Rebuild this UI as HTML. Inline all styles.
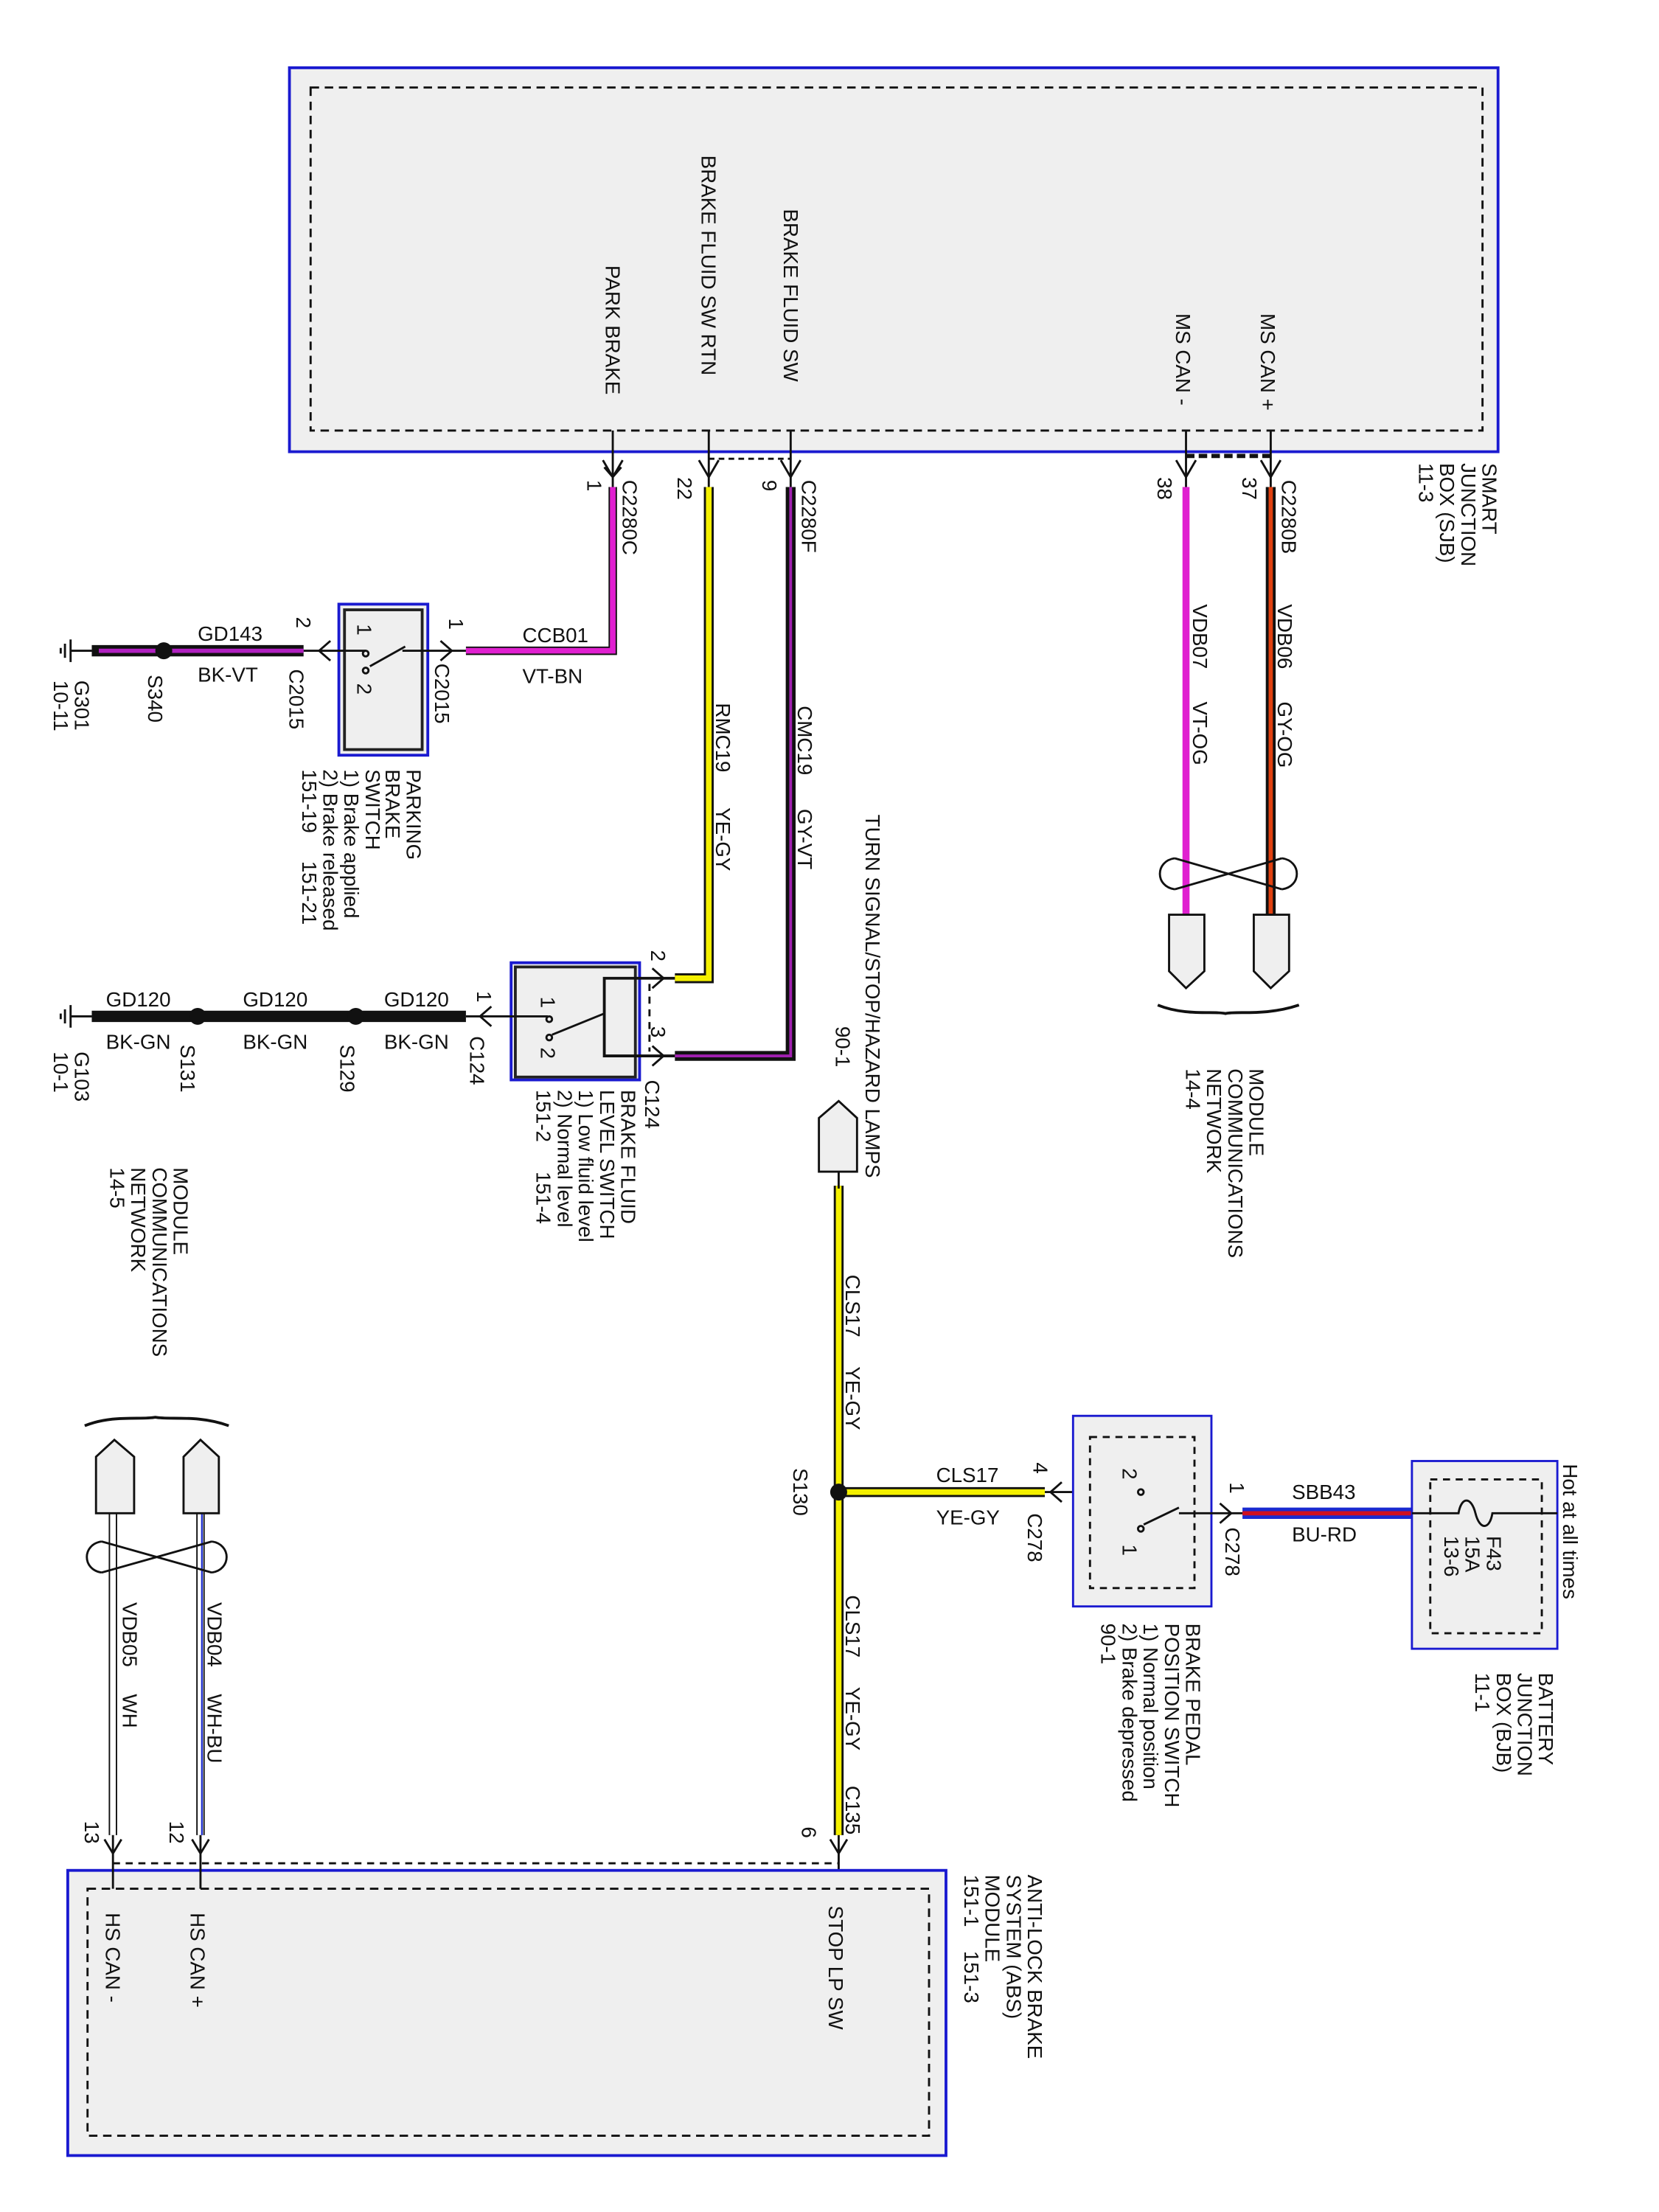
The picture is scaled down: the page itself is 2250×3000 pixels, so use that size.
<!DOCTYPE html>
<html><head><meta charset="utf-8"><style>
html,body{margin:0;padding:0;background:#fff;}
svg{display:block;}
text{font-family:"Liberation Sans",sans-serif;fill:#111;}
</style></head><body>
<svg width="2250" height="3000" viewBox="0 0 1175 1567" preserveAspectRatio="none" xmlns="http://www.w3.org/2000/svg">
<g font-size="14.5">
<!-- SJB -->
<rect x="205" y="48" width="856" height="272" fill="#efefef" stroke="#1a1ad0" stroke-width="2"/>
<rect x="220" y="62" width="830" height="243" fill="none" stroke="#111" stroke-width="1.5" stroke-dasharray="6,4"/>
<text transform="translate(429,188) rotate(90)">PARK BRAKE</text>
<text transform="translate(497,110) rotate(90)">BRAKE FLUID SW RTN</text>
<text transform="translate(555,148) rotate(90)">BRAKE FLUID SW</text>
<text transform="translate(833,222) rotate(90)">MS CAN -</text>
<text transform="translate(893,222) rotate(90)">MS CAN +</text>
<text transform="translate(1050,328) rotate(90)">SMART</text>
<text transform="translate(1035,328) rotate(90)">JUNCTION</text>
<text transform="translate(1020,328) rotate(90)">BOX (SJB)</text>
<text transform="translate(1005,328) rotate(90)">11-3</text>
<!-- pins SJB -->
<g stroke="#111" stroke-width="1.5" fill="none">
<line x1="434" y1="305" x2="434" y2="345"/><line x1="502" y1="305" x2="502" y2="345"/><line x1="560" y1="305" x2="560" y2="345"/>
<line x1="840" y1="305" x2="840" y2="345"/><line x1="900" y1="305" x2="900" y2="345"/>
<path d="M427 326 L434 338 L441 326 M428 331 L434 338 L440 331"/>
<path d="M495 326 L502 338 L509 326"/>
<path d="M553 326 L560 338 L567 326"/>
<path d="M833 326 L840 338 L847 326"/>
<path d="M893 326 L900 338 L907 326"/>
<line x1="502" y1="325" x2="560" y2="325" stroke-dasharray="4,3"/>
<line x1="840" y1="323" x2="900" y2="323" stroke-width="3" stroke-dasharray="6,3"/>
</g>
<text transform="translate(416,340) rotate(90)">1</text>
<text transform="translate(480,338) rotate(90)">22</text>
<text transform="translate(540,340) rotate(90)">9</text>
<text transform="translate(820,338) rotate(90)">38</text>
<text transform="translate(880,338) rotate(90)">37</text>
<text transform="translate(441,340) rotate(90)">C2280C</text>
<text transform="translate(568,340) rotate(90)">C2280F</text>
<text transform="translate(908,340) rotate(90)">C2280B</text>

<!-- Park brake wire CCB01 -->
<path d="M434 345 L434 461 L330 461" fill="none" stroke="#111" stroke-width="6"/>
<path d="M434 345 L434 461 L330 461" fill="none" stroke="#e020d0" stroke-width="4"/>
<text x="370" y="455">CCB01</text><text x="370" y="484">VT-BN</text>
<!-- Parking brake switch -->
<rect x="240" y="428" width="63" height="107" fill="#efefef" stroke="#1a1ad0" stroke-width="2"/>
<rect x="244" y="432" width="55" height="99" fill="none" stroke="#222" stroke-width="2"/>
<g stroke="#111" stroke-width="1.5" fill="none">
<line x1="215" y1="461" x2="259" y2="461"/><line x1="285" y1="461" x2="330" y2="461"/>
<path d="M312 454 L320 461 L312 468"/>
<path d="M234 454 L226 461 L234 468"/>
<line x1="262" y1="472" x2="287" y2="458"/>
<circle cx="259" cy="463" r="2"/><circle cx="259" cy="475" r="2"/>
</g>
<text transform="translate(318,438) rotate(90)">1</text>
<text transform="translate(308,470) rotate(90)">C2015</text>
<text transform="translate(210,437) rotate(90)">2</text>
<text transform="translate(205,474) rotate(90)">C2015</text>
<text transform="translate(253,442) rotate(90)">1</text>
<text transform="translate(253,484) rotate(90)">2</text>
<text transform="translate(288,545) rotate(90)">PARKING</text>
<text transform="translate(273,545) rotate(90)">BRAKE</text>
<text transform="translate(259,545) rotate(90)">SWITCH</text>
<text transform="translate(244,545) rotate(90)">1) Brake applied</text>
<text transform="translate(229,545) rotate(90)">2) Brake released</text>
<text transform="translate(214,545) rotate(90)">151-19</text>
<text transform="translate(214,610) rotate(90)">151-21</text>
<!-- GD143 -->
<line x1="65" y1="461" x2="215" y2="461" stroke="#111" stroke-width="8"/>
<line x1="70" y1="461" x2="215" y2="461" stroke="#b020c0" stroke-width="3"/>
<circle cx="116" cy="461" r="6" fill="#111"/>
<text x="140" y="454">GD143</text><text x="140" y="483">BK-VT</text>
<g stroke="#111" stroke-width="1.5"><line x1="50" y1="461" x2="65" y2="461"/><line x1="50" y1="453" x2="50" y2="469"/><line x1="46" y1="456" x2="46" y2="466"/><line x1="43" y1="459" x2="43" y2="463"/></g>
<text transform="translate(53,482) rotate(90)">G301</text>
<text transform="translate(38,482) rotate(90)">10-11</text>
<text transform="translate(105,478) rotate(90)">S340</text>

<!-- RMC19 -->
<path d="M502 345 L502 693 L478 693" fill="none" stroke="#111" stroke-width="7"/>
<path d="M502 345 L502 693 L478 693" fill="none" stroke="#f4f000" stroke-width="4"/>
<text transform="translate(507,498) rotate(90)">RMC19</text>
<text transform="translate(507,572) rotate(90)">YE-GY</text>
<!-- CMC19 -->
<path d="M560 345 L560 748 L478 748" fill="none" stroke="#111" stroke-width="7"/>
<path d="M560 345 L560 748 L478 748" fill="none" stroke="#a020b0" stroke-width="2"/>
<text transform="translate(565,500) rotate(90)">CMC19</text>
<text transform="translate(565,573) rotate(90)">GY-VT</text>
<!-- Brake fluid switch -->
<rect x="362" y="682" width="91" height="83" fill="#efefef" stroke="#1a1ad0" stroke-width="2"/>
<rect x="365" y="685" width="85" height="78" fill="none" stroke="#222" stroke-width="2"/>
<g stroke="#111" stroke-width="1.5" fill="none">
<path d="M478 693 L428 693 L428 748 L478 748" stroke-width="2"/>
<line x1="460" y1="697" x2="460" y2="745" stroke-dasharray="5,4"/>
<path d="M462 686 L470 693 L462 700"/><path d="M462 741 L470 748 L462 755"/>
<line x1="330" y1="720" x2="388" y2="720"/>
<path d="M348 713 L340 720 L348 727"/>
<line x1="391" y1="733" x2="428" y2="718"/>
<circle cx="389" cy="722" r="2"/><circle cx="389" cy="735" r="2"/>
</g>
<text transform="translate(461,673) rotate(90)">2</text>
<text transform="translate(461,727) rotate(90)">3</text>
<text transform="translate(457,765) rotate(90)">C124</text>
<text transform="translate(338,702) rotate(90)">1</text>
<text transform="translate(333,734) rotate(90)">C124</text>
<text transform="translate(383,706) rotate(90)">1</text>
<text transform="translate(383,742) rotate(90)">2</text>
<text transform="translate(440,772) rotate(90)">BRAKE FLUID</text>
<text transform="translate(425,772) rotate(90)">LEVEL SWITCH</text>
<text transform="translate(410,772) rotate(90)">1) Low fluid level</text>
<text transform="translate(395,772) rotate(90)">2) Normal level</text>
<text transform="translate(380,772) rotate(90)">151-2</text>
<text transform="translate(380,830) rotate(90)">151-4</text>
<!-- GD120 -->
<line x1="65" y1="720" x2="330" y2="720" stroke="#111" stroke-width="8"/>
<circle cx="140" cy="720" r="6" fill="#111"/><circle cx="252" cy="720" r="6" fill="#111"/>
<text x="75" y="713">GD120</text><text x="75" y="743">BK-GN</text>
<text x="172" y="713">GD120</text><text x="172" y="743">BK-GN</text>
<text x="272" y="713">GD120</text><text x="272" y="743">BK-GN</text>
<g stroke="#111" stroke-width="1.5"><line x1="50" y1="720" x2="65" y2="720"/><line x1="50" y1="712" x2="50" y2="728"/><line x1="46" y1="715" x2="46" y2="725"/><line x1="43" y1="718" x2="43" y2="722"/></g>
<text transform="translate(53,745) rotate(90)">G103</text>
<text transform="translate(38,745) rotate(90)">10-1</text>
<text transform="translate(128,740) rotate(90)">S131</text>
<text transform="translate(241,740) rotate(90)">S129</text>

<!-- MS CAN -->
<line x1="900" y1="345" x2="900" y2="648" stroke="#111" stroke-width="7"/>
<line x1="900" y1="345" x2="900" y2="648" stroke="#e04010" stroke-width="3"/>
<line x1="840" y1="345" x2="840" y2="648" stroke="#e020d0" stroke-width="5"/>
<text transform="translate(905,428) rotate(90)">VDB06</text>
<text transform="translate(905,497) rotate(90)">GY-OG</text>
<text transform="translate(845,428) rotate(90)">VDB07</text>
<text transform="translate(845,497) rotate(90)">VT-OG</text>
<g stroke="#111" stroke-width="1.5" fill="none">
<path d="M832 608 L908 630 M832 630 L908 608 M832 608 C818 610 818 628 832 630 M908 608 C922 610 922 628 908 630"/>
<path d="M828 648 L853 648 L853 688 L840 700 L828 688 Z" fill="#efefef"/>
<path d="M888 648 L913 648 L913 688 L900 700 L888 688 Z" fill="#efefef"/>
<path d="M820 712 C840 720 860 716 868 718 C876 716 896 720 920 712" stroke-width="2"/>
</g>
<text transform="translate(885,757) rotate(90)">MODULE</text>
<text transform="translate(870,757) rotate(90)">COMMUNICATIONS</text>
<text transform="translate(855,757) rotate(90)">NETWORK</text>
<text transform="translate(840,757) rotate(90)">14-4</text>

<!-- Turn signal -->
<text transform="translate(613,577) rotate(90)">TURN SIGNAL/STOP/HAZARD LAMPS</text>
<text transform="translate(592,727) rotate(90)">90-1</text>
<path d="M580 830 L607 830 L607 792 L594 780 L580 792 Z" fill="#efefef" stroke="#111" stroke-width="1.5"/>
<line x1="594" y1="840" x2="594" y2="1300" stroke="#111" stroke-width="7"/>
<line x1="594" y1="840" x2="594" y2="1300" stroke="#f4f000" stroke-width="4"/>
<line x1="594" y1="830" x2="594" y2="842" stroke="#111" stroke-width="1.5"/>
<text transform="translate(599,903) rotate(90)">CLS17</text>
<text transform="translate(599,968) rotate(90)">YE-GY</text>
<text transform="translate(599,1130) rotate(90)">CLS17</text>
<text transform="translate(599,1195) rotate(90)">YE-GY</text>
<text transform="translate(599,1265) rotate(90)">C135</text>
<text transform="translate(568,1294) rotate(90)">6</text>
<line x1="594" y1="1057" x2="740" y2="1057" stroke="#111" stroke-width="7"/>
<line x1="594" y1="1057" x2="740" y2="1057" stroke="#f4f000" stroke-width="4"/>
<circle cx="594" cy="1057" r="6" fill="#111"/>
<text transform="translate(562,1040) rotate(90)">S130</text>
<text x="663" y="1050">CLS17</text><text x="663" y="1080">YE-GY</text>
<g stroke="#111" stroke-width="1.5" fill="none">
<line x1="740" y1="1057" x2="808" y2="1057"/>
<path d="M752 1050 L744 1057 L752 1064"/>
<line x1="594" y1="1300" x2="594" y2="1338"/>
<path d="M588 1303 L594 1313 L600 1303"/>
</g>
<text transform="translate(732,1036) rotate(90)">4</text>
<text transform="translate(728,1072) rotate(90)">C278</text>
<!-- Brake pedal switch -->
<rect x="760" y="1003" width="98" height="135" fill="#efefef" stroke="#1a1ad0" stroke-width="1.5"/>
<rect x="772" y="1018" width="74" height="107" fill="none" stroke="#111" stroke-width="1.5" stroke-dasharray="5,4"/>
<g stroke="#111" stroke-width="1.5" fill="none">
<circle cx="808" cy="1057" r="2"/><circle cx="808" cy="1083" r="2"/>
<line x1="810" y1="1080" x2="835" y2="1068"/>
<line x1="835" y1="1072" x2="880" y2="1072"/>
<path d="M864 1065 L872 1072 L864 1079"/>
</g>
<text transform="translate(795,1040) rotate(90)">2</text>
<text transform="translate(795,1094) rotate(90)">1</text>
<text transform="translate(871,1050) rotate(90)">1</text>
<text transform="translate(868,1082) rotate(90)">C278</text>
<text transform="translate(840,1150) rotate(90)">BRAKE PEDAL</text>
<text transform="translate(825,1150) rotate(90)">POSITION SWITCH</text>
<text transform="translate(810,1150) rotate(90)">1) Normal position</text>
<text transform="translate(795,1150) rotate(90)">2) Brake depressed</text>
<text transform="translate(780,1150) rotate(90)">90-1</text>
<!-- SBB43 -->
<line x1="880" y1="1072" x2="1000" y2="1072" stroke="#1a2ad0" stroke-width="8"/>
<line x1="880" y1="1072" x2="1000" y2="1072" stroke="#d01020" stroke-width="3"/>
<text x="915" y="1062">SBB43</text><text x="915" y="1092">BU-RD</text>
<!-- BJB -->
<rect x="1000" y="1035" width="103" height="133" fill="#efefef" stroke="#1a1ad0" stroke-width="1.5"/>
<rect x="1013" y="1048" width="79" height="109" fill="none" stroke="#111" stroke-width="1.5" stroke-dasharray="5,4"/>
<path d="M1000 1072 L1033 1072 C1035 1060 1042 1060 1045 1072 C1048 1084 1055 1084 1057 1072 L1103 1072" fill="none" stroke="#111" stroke-width="1.5"/>
<text transform="translate(1053,1088) rotate(90)">F43</text>
<text transform="translate(1038,1088) rotate(90)">15A</text>
<text transform="translate(1023,1088) rotate(90)">13-6</text>
<text transform="translate(1107,1037) rotate(90)">Hot at all times</text>
<text transform="translate(1090,1185) rotate(90)">BATTERY</text>
<text transform="translate(1075,1185) rotate(90)">JUNCTION</text>
<text transform="translate(1060,1185) rotate(90)">BOX (BJB)</text>
<text transform="translate(1045,1185) rotate(90)">11-1</text>

<!-- ABS -->
<rect x="48" y="1325" width="622" height="202" fill="#efefef" stroke="#1a1ad0" stroke-width="2"/>
<rect x="62" y="1338" width="596" height="175" fill="none" stroke="#111" stroke-width="1.5" stroke-dasharray="6,4"/>
<line x1="80" y1="1320" x2="594" y2="1320" stroke="#111" stroke-width="1.5" stroke-dasharray="5,4"/>
<text transform="translate(587,1350) rotate(90)">STOP LP SW</text>
<text transform="translate(135,1355) rotate(90)">HS CAN +</text>
<text transform="translate(75,1355) rotate(90)">HS CAN -</text>
<text transform="translate(728,1328) rotate(90)">ANTI-LOCK BRAKE</text>
<text transform="translate(713,1328) rotate(90)">SYSTEM (ABS)</text>
<text transform="translate(698,1328) rotate(90)">MODULE</text>
<text transform="translate(683,1328) rotate(90)">151-1</text>
<text transform="translate(683,1382) rotate(90)">151-3</text>
<!-- HS CAN wires -->
<line x1="142" y1="1072" x2="142" y2="1300" stroke="#111" stroke-width="6"/>
<line x1="142" y1="1072" x2="142" y2="1300" stroke="#fff" stroke-width="4"/>
<line x1="143" y1="1072" x2="143" y2="1300" stroke="#2030d0" stroke-width="1.2"/>
<line x1="80" y1="1072" x2="80" y2="1300" stroke="#111" stroke-width="6"/>
<line x1="80" y1="1072" x2="80" y2="1300" stroke="#fff" stroke-width="4"/>
<g stroke="#111" stroke-width="1.5" fill="none">
<line x1="142" y1="1300" x2="142" y2="1338"/><line x1="80" y1="1300" x2="80" y2="1338"/>
<path d="M136 1303 L142 1313 L148 1303"/><path d="M74 1303 L80 1313 L86 1303"/>
<path d="M72 1092 L150 1114 M72 1114 L150 1092 M72 1092 C58 1094 58 1112 72 1114 M150 1092 C164 1094 164 1112 150 1114"/>
<path d="M130 1072 L155 1072 L155 1032 L142 1020 L130 1032 Z" fill="#efefef"/>
<path d="M68 1072 L95 1072 L95 1032 L81 1020 L68 1032 Z" fill="#efefef"/>
<path d="M60 1010 C80 1002 100 1006 110 1004 C120 1006 140 1002 162 1010" stroke-width="2"/>
</g>
<text transform="translate(147,1135) rotate(90)">VDB04</text>
<text transform="translate(147,1200) rotate(90)">WH-BU</text>
<text transform="translate(87,1135) rotate(90)">VDB05</text>
<text transform="translate(87,1200) rotate(90)">WH</text>
<text transform="translate(120,1290) rotate(90)">12</text>
<text transform="translate(60,1290) rotate(90)">13</text>
<text transform="translate(123,827) rotate(90)">MODULE</text>
<text transform="translate(108,827) rotate(90)">COMMUNICATIONS</text>
<text transform="translate(93,827) rotate(90)">NETWORK</text>
<text transform="translate(78,827) rotate(90)">14-5</text>
</g>
</svg>
</body></html>
